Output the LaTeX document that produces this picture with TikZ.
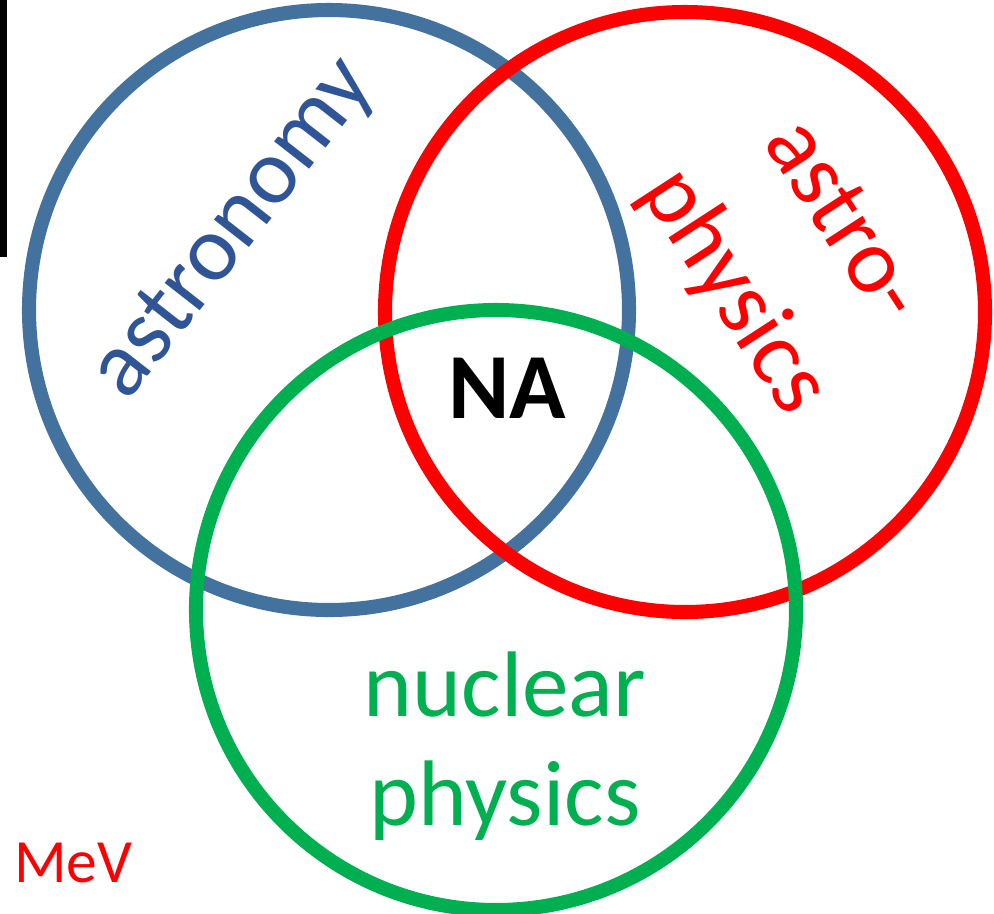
\documentclass[tikz,border=0pt]{standalone}
\usepackage{fontspec}
\setmainfont{Carlito}
\definecolor{ringblue}{RGB}{68,114,158}
\definecolor{textblue}{RGB}{47,85,151}
\definecolor{nucgreen}{RGB}{0,176,80}
\begin{document}
\begin{tikzpicture}[ring/.style={line width=8pt}, big/.style={font=\fontsize{53}{62}\selectfont}]
\useasboundingbox (0,0) rectangle (19.88,-18.26);
\fill (0,0) rectangle (0.14,-5.14);
\draw [ring, ringblue] (6.58,-6.2) circle (6);
\draw [ring, red] (13.7,-6.24) circle (6);
\draw [ring, nucgreen] (9.92,-12.2) circle (6);
\node [big, textblue, rotate=52] (astro) at (4.7,-4.6) {astronomy};
\node [big, red, rotate=-57, align=center, font=\fontsize{53}{74}\selectfont] (astrophys) at (15.72,-5.16) {astro-\\physics};
\node [big, nucgreen, align=center] (nuclear) at (10.1,-14.92) {nuclear\\physics};
\node [big, font=\fontsize{53}{62}\bfseries] (na) at (10.14,-7.76) {NA};
\node [red, anchor=base west, font=\fontsize{35}{40}\selectfont] (mev) at (0.16,-17.64) {MeV};
\end{tikzpicture}
\end{document}
